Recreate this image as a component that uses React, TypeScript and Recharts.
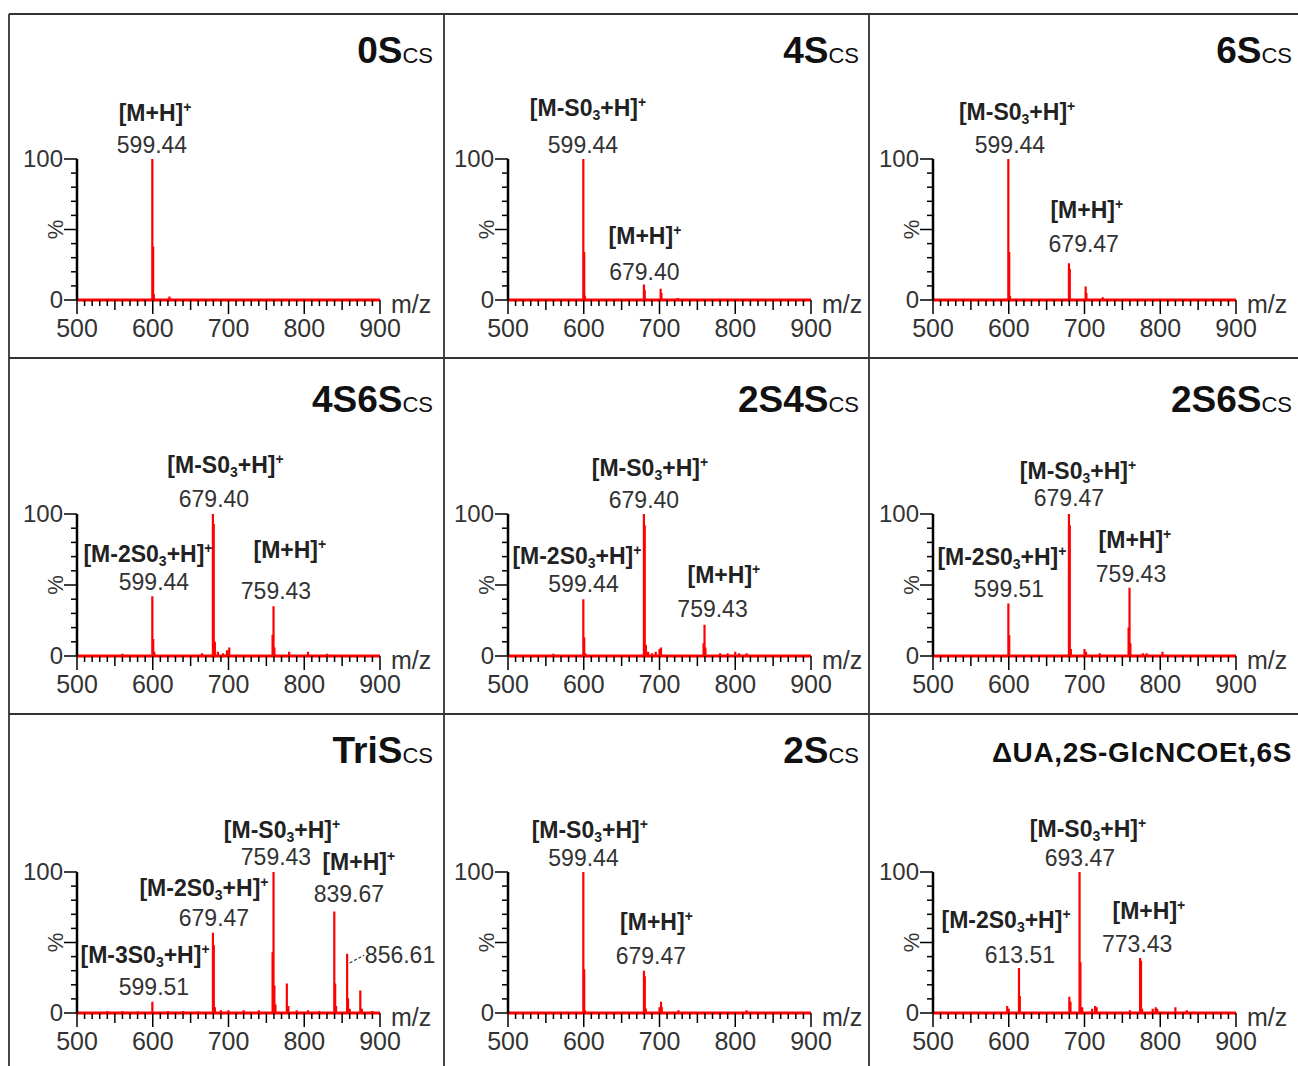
import React from 'react';
import { ComposedChart, Line, XAxis, YAxis, ReferenceLine, ReferenceDot } from 'recharts';

// stick spectra: [m/z, relative intensity %]
type Peak = [number, number];

const X_TICKS = [500, 510, 520, 530, 540, 550, 560, 570, 580, 590, 600, 610, 620, 630, 640, 650, 660, 670, 680, 690, 700,
  710, 720, 730, 740, 750, 760, 770, 780, 790, 800, 810, 820, 830, 840, 850, 860, 870, 880, 890, 900];
const Y_TICKS = [0, 10, 20, 30, 40, 50, 60, 70, 80, 90, 100];

const PEAKS_0S: Peak[] = [[599.44, 100], [600.5, 38], [601.5, 4], [622, 2.5], [624, 1]];
const PEAKS_4S: Peak[] = [[599.44, 100], [600.6, 34], [601.6, 3], [679.4, 11], [680.5, 7], [701.5, 8], [702.5, 5], [724, 1.5]];
const PEAKS_6S: Peak[] = [[599.44, 100], [600.6, 34], [601.6, 3], [679.47, 26], [680.6, 22], [701.5, 9.5], [702.5, 5], [724, 2]];
const PEAKS_4S6S: Peak[] = [[560, 1.5], [599.44, 42], [600.6, 12], [602, 3], [665, 2], [679.4, 100], [680.5, 93], [682, 10],
  [686, 3], [693, 2], [698, 4], [701, 6], [758.2, 15], [759.43, 35], [760.6, 6], [780, 3], [805, 3], [830, 1.5]];
const PEAKS_2S4S: Peak[] = [[560, 1.5], [599.44, 40], [600.6, 13], [602, 2], [679.4, 100], [680.5, 92], [682, 8], [685, 3],
  [690, 2], [695, 3], [700, 5], [702, 6], [758.2, 9], [759.43, 22], [760.6, 6], [780, 2], [790, 2], [800, 3], [805, 2], [815, 2]];
const PEAKS_2S6S: Peak[] = [[599.51, 37], [600.6, 14.6], [679.47, 100], [680.6, 92], [682, 5], [700, 5], [702, 3], [720, 2],
  [758.2, 20], [759.43, 48], [760.6, 9], [777, 2], [782, 2], [803, 3]];
const PEAKS_TRIS: Peak[] = [[540, 1.5], [560, 1.5], [580, 1], [599.51, 8], [620, 1.5], [640, 1.5], [660, 1], [679.47, 57],
  [680.6, 48], [682, 4], [690, 2], [700, 2], [720, 2], [740, 2], [758.2, 43], [759.43, 100], [760.6, 19.5], [762, 6],
  [777, 21], [779, 5], [790, 2], [805, 2], [820, 1.5], [839.67, 72], [840.8, 21], [842, 5], [856.61, 42], [857.8, 10.5],
  [860, 3], [874, 16], [876, 3], [890, 1.5]];
const PEAKS_2S: Peak[] = [[599.44, 100], [600.6, 31], [601.6, 2], [679.47, 30], [680.6, 26], [682, 3], [700, 4], [702, 8],
  [703, 4], [725, 2], [815, 2]];
const PEAKS_DUA: Peak[] = [[598, 5], [600, 3], [613.51, 32], [614.6, 12], [680, 11.5], [681.5, 8], [693.47, 100], [694.6, 36],
  [697, 4], [710, 3], [714, 5], [716, 4], [760, 2], [773.43, 39], [774.6, 37], [776, 3], [790, 3], [794, 4], [796, 3],
  [820, 4], [835, 2]];

// peak annotations, anchored in data units (m/z, %)
type Annot = { mz: number; i: number; text: string; kind: 'ion' | 'val' | 'valStart' };

const ANNOT_0S: Annot[] = [
  { mz: 603, i: 132.6, text: '[M+H]⁺', kind: 'ion' },
  { mz: 599, i: 110, text: '599.44', kind: 'val' },
];
const ANNOT_4S: Annot[] = [
  { mz: 605.6, i: 136.2, text: '[M-S0₃+H]⁺', kind: 'ion' },
  { mz: 599, i: 110, text: '599.44', kind: 'val' },
  { mz: 680.8, i: 45.4, text: '[M+H]⁺', kind: 'ion' },
  { mz: 680, i: 19.9, text: '679.40', kind: 'val' },
];
const ANNOT_6S: Annot[] = [
  { mz: 611, i: 133.3, text: '[M-S0₃+H]⁺', kind: 'ion' },
  { mz: 601.6, i: 110, text: '599.44', kind: 'val' },
  { mz: 703, i: 63.8, text: '[M+H]⁺', kind: 'ion' },
  { mz: 699, i: 39.7, text: '679.47', kind: 'val' },
];
const ANNOT_4S6S: Annot[] = [
  { mz: 696, i: 134.5, text: '[M-S0₃+H]⁺', kind: 'ion' },
  { mz: 680.8, i: 110.6, text: '679.40', kind: 'val' },
  { mz: 593.7, i: 71.8, text: '[M-2S0₃+H]⁺', kind: 'ion' },
  { mz: 601.6, i: 52.1, text: '599.44', kind: 'val' },
  { mz: 781, i: 74.6, text: '[M+H]⁺', kind: 'ion' },
  { mz: 762.7, i: 45.8, text: '759.43', kind: 'val' },
];
const ANNOT_2S4S: Annot[] = [
  { mz: 687.4, i: 132.4, text: '[M-S0₃+H]⁺', kind: 'ion' },
  { mz: 679.5, i: 109.9, text: '679.40', kind: 'val' },
  { mz: 591, i: 70.4, text: '[M-2S0₃+H]⁺', kind: 'ion' },
  { mz: 599.7, i: 50.7, text: '599.44', kind: 'val' },
  { mz: 785, i: 57, text: '[M+H]⁺', kind: 'ion' },
  { mz: 770, i: 33.1, text: '759.43', kind: 'val' },
];
const ANNOT_2S6S: Annot[] = [
  { mz: 691.4, i: 130.3, text: '[M-S0₃+H]⁺', kind: 'ion' },
  { mz: 679.5, i: 111.3, text: '679.47', kind: 'val' },
  { mz: 591, i: 69.7, text: '[M-2S0₃+H]⁺', kind: 'ion' },
  { mz: 600.3, i: 47.2, text: '599.51', kind: 'val' },
  { mz: 766.6, i: 81.7, text: '[M+H]⁺', kind: 'ion' },
  { mz: 761.4, i: 57.7, text: '759.43', kind: 'val' },
];
const ANNOT_TRIS: Annot[] = [
  { mz: 770.6, i: 129.8, text: '[M-S0₃+H]⁺', kind: 'ion' },
  { mz: 762.7, i: 110.6, text: '759.43', kind: 'val' },
  { mz: 872, i: 107, text: '[M+H]⁺', kind: 'ion' },
  { mz: 859, i: 84.4, text: '839.67', kind: 'val' },
  { mz: 667.6, i: 88.7, text: '[M-2S0₃+H]⁺', kind: 'ion' },
  { mz: 680.8, i: 67.4, text: '679.47', kind: 'val' },
  { mz: 589.8, i: 41.1, text: '[M-3S0₃+H]⁺', kind: 'ion' },
  { mz: 601.6, i: 18.4, text: '599.51', kind: 'val' },
  { mz: 880, i: 41.1, text: '856.61', kind: 'valStart' },
];
const ANNOT_2S: Annot[] = [
  { mz: 608, i: 129.8, text: '[M-S0₃+H]⁺', kind: 'ion' },
  { mz: 599.7, i: 110, text: '599.44', kind: 'val' },
  { mz: 696, i: 64.5, text: '[M+H]⁺', kind: 'ion' },
  { mz: 688.7, i: 40.4, text: '679.47', kind: 'val' },
];
const ANNOT_DUA: Annot[] = [
  { mz: 704.6, i: 130.5, text: '[M-S0₃+H]⁺', kind: 'ion' },
  { mz: 694, i: 110, text: '693.47', kind: 'val' },
  { mz: 596.4, i: 66, text: '[M-2S0₃+H]⁺', kind: 'ion' },
  { mz: 614.8, i: 41.1, text: '613.51', kind: 'val' },
  { mz: 785, i: 72.3, text: '[M+H]⁺', kind: 'ion' },
  { mz: 769.6, i: 48.9, text: '773.43', kind: 'val' },
];

const TITLES = ['0S', '4S', '6S', '4S6S', '2S4S', '2S6S', 'TriS', '2S', 'ΔUA,2S-GlcNCOEt,6S'];
const SUBTITLES = ['CS', 'CS', 'CS', 'CS', 'CS', 'CS', 'CS', 'CS', ''];
const SPECTRA = [PEAKS_0S, PEAKS_4S, PEAKS_6S, PEAKS_4S6S, PEAKS_2S4S, PEAKS_2S6S, PEAKS_TRIS, PEAKS_2S, PEAKS_DUA];
const ANNOTS = [ANNOT_0S, ANNOT_4S, ANNOT_6S, ANNOT_4S6S, ANNOT_2S4S, ANNOT_2S6S, ANNOT_TRIS, ANNOT_2S, ANNOT_DUA];

// grid layout (pixels)
const COL_LEFT = [9, 444, 869];
const COL_W = [435, 425, 429];
const AXIS_LEFT = [68, 64, 64];
const ROW_TOP = [14, 358, 714];
const ROW_H = [344, 356, 352];
const PLOT_TOP = [145, 156, 158];
const PLOT_H = [141, 142, 141];
const PLOT_W = 303;
const TITLE_RIGHT = [433, 859, 1292];
const TITLE_BASE = [63, 412, 763];

const FONT = '"Liberation Sans", Arial, sans-serif';
const RED = '#ff0000';
const Y_W = 60;
const X_H = 45;

function toSticks(peaks: Peak[]) {
  const sorted = [...peaks].sort((a, b) => a[0] - b[0]);
  const pts: { mz: number; i: number }[] = [{ mz: 500, i: 0 }];
  sorted.forEach(([mz, h]) => {
    pts.push({ mz, i: 0 }, { mz, i: h }, { mz, i: 0 });
  });
  pts.push({ mz: 900, i: 0 });
  return pts;
}

function ionSpans(text: string) {
  const out: React.ReactNode[] = [];
  let buf = '';
  let shift = 0;
  const flush = () => {
    if (!buf) return;
    out.push(<tspan key={out.length} dy={shift ? -shift : undefined}>{buf}</tspan>);
    shift = 0;
    buf = '';
  };
  for (const c of text) {
    if (c === '₃') {
      flush();
      out.push(<tspan key={out.length} fontSize={14} dy={4 - shift}>3</tspan>);
      shift = 4;
    } else if (c === '⁺') {
      flush();
      out.push(<tspan key={out.length} fontSize={14} dy={-9 - shift}>+</tspan>);
      shift = -9;
    } else {
      buf += c;
    }
  }
  flush();
  return out;
}

function AnnotText({ cx, cy, a }: { cx?: number; cy?: number; a: Annot }) {
  if (cx == null || cy == null) return null;
  if (a.kind === 'ion') {
    return (
      <text x={cx} y={cy} dy="0.35em" textAnchor="middle" fontFamily={FONT} fontSize={23} fontWeight="bold" fill="#222">
        {ionSpans(a.text)}
      </text>
    );
  }
  return (
    <text x={cx} y={cy} dy="0.35em" textAnchor={a.kind === 'valStart' ? 'start' : 'middle'}
      fontFamily={FONT} fontSize={23} fill="#333">
      {a.text}
    </text>
  );
}

const XTick = (props: any) => {
  const { x, y, payload } = props;
  const v = payload.value;
  const len = v % 100 === 0 ? 14 : v % 50 === 0 ? 10 : 6;
  return (
    <g>
      <line x1={x} x2={x} y1={y} y2={y + len} stroke="#000" strokeWidth={1.5} />
      {v % 100 === 0 && (
        <text x={x} y={y + 28} dy="0.35em" textAnchor="middle" fontFamily={FONT} fontSize={25} fill="#333">{v}</text>
      )}
    </g>
  );
};

const YTick = (props: any) => {
  const { x, y, payload } = props;
  const v = payload.value;
  const major = v === 0 || v === 50 || v === 100;
  return (
    <g>
      <line x1={x - (major ? 13 : 6)} x2={x} y1={y} y2={y} stroke="#000" strokeWidth={1.5} />
      {(v === 0 || v === 100) && (
        <text x={x - 14} y={y} dy="0.35em" textAnchor="end" fontFamily={FONT} fontSize={24} fill="#333">{v}</text>
      )}
      {v === 50 && (
        <text transform={`translate(${x - 22},${y}) rotate(-90)`} dy="0.35em" textAnchor="middle"
          fontFamily={FONT} fontSize={22} fill="#333">%</text>
      )}
    </g>
  );
};

function Panel({ idx }: { idx: number }) {
  const col = idx % 3;
  const row = Math.floor(idx / 3);
  const w = COL_W[col];
  const h = ROW_H[row];
  const margin = {
    top: PLOT_TOP[row],
    left: AXIS_LEFT[col] - Y_W,
    right: w - AXIS_LEFT[col] - PLOT_W,
    bottom: h - PLOT_TOP[row] - PLOT_H[row] - X_H,
  };
  const sticks = toSticks(SPECTRA[idx]);
  return (
    <div style={{ position: 'absolute', left: COL_LEFT[col], top: ROW_TOP[row], width: w, height: h }}>
      <ComposedChart width={w} height={h} margin={margin} data={sticks}>
        <XAxis dataKey="mz" type="number" domain={[500, 900]} ticks={X_TICKS} interval={0}
          tickSize={0} tickMargin={0} height={X_H} tickLine={false} tick={XTick}
          axisLine={{ stroke: RED, strokeWidth: 3 }} />
        <YAxis type="number" domain={[0, 100]} ticks={Y_TICKS} interval={0}
          tickSize={0} tickMargin={0} width={Y_W} tickLine={false} tick={YTick}
          axisLine={{ stroke: '#000', strokeWidth: 2.5 }} />
        {idx === 6 && (
          <ReferenceLine segment={[{ x: 860, y: 35.5 }, { x: 879, y: 41 }]} stroke="#333" strokeWidth={1.2}
            strokeDasharray="3 2" ifOverflow="visible" />
        )}
        <Line dataKey="i" type="linear" stroke={RED} strokeWidth={2.2} dot={false}
          activeDot={false} isAnimationActive={false} />
        {ANNOTS[idx].map((a, k) => (
          <ReferenceDot key={k} x={a.mz} y={a.i} r={0} ifOverflow="visible"
            shape={(p: any) => <AnnotText cx={p.cx} cy={p.cy} a={a} />} />
        ))}
      </ComposedChart>
    </div>
  );
}

function Overlay() {
  const cells = TITLES.map((_, idx) => idx);
  return (
    <svg width={1298} height={1066} style={{ position: 'absolute', left: 0, top: 0, pointerEvents: 'none' }}>
      <g stroke="#333" strokeWidth={1.8}>
        <line x1={9} x2={1298} y1={14} y2={14} />
        <line x1={9} x2={1298} y1={358} y2={358} />
        <line x1={9} x2={1298} y1={714} y2={714} />
        <line x1={9} x2={9} y1={14} y2={1066} />
        <line x1={444} x2={444} y1={14} y2={1066} />
        <line x1={869} x2={869} y1={14} y2={1066} />
      </g>
      {cells.map((idx) => {
        const col = idx % 3;
        const row = Math.floor(idx / 3);
        const axisX = COL_LEFT[col] + AXIS_LEFT[col];
        const axisY = ROW_TOP[row] + PLOT_TOP[row] + PLOT_H[row];
        const long = SUBTITLES[idx] === '';
        return (
          <g key={idx}>
            <text x={TITLE_RIGHT[col]} y={TITLE_BASE[row] - (long ? 1 : 0)} textAnchor="end" fontFamily={FONT} fill="#111">
              <tspan fontWeight="bold" fontSize={long ? 28 : 37} letterSpacing={long ? 0.6 : 0}>{TITLES[idx]}</tspan>
              {!long && <tspan fontSize={22}>{SUBTITLES[idx]}</tspan>}
            </text>
            <text x={axisX + PLOT_W + 11} y={axisY + 4} dy="0.35em" fontFamily={FONT} fontSize={25} fill="#333">m/z</text>
          </g>
        );
      })}
    </svg>
  );
}

export default function App() {
  return (
    <div style={{ position: 'absolute', left: 0, top: 0, width: 1298, height: 1066, background: '#fff', overflow: 'hidden' }}>
      {TITLES.map((_, idx) => (
        <Panel key={idx} idx={idx} />
      ))}
      <Overlay />
    </div>
  );
}
